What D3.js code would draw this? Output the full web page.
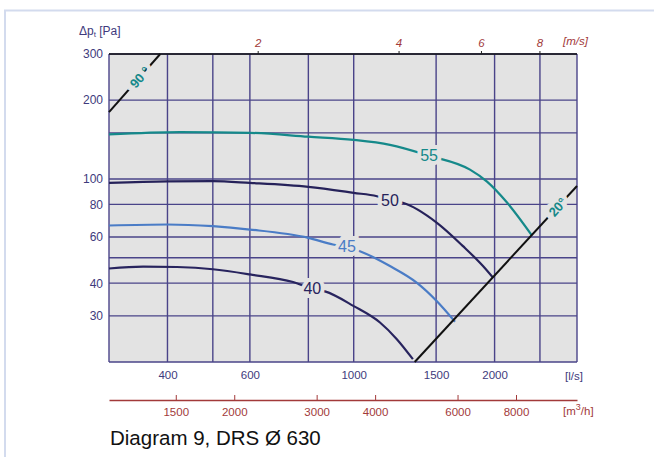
<!DOCTYPE html>
<html>
<head>
<meta charset="utf-8">
<script src="https://cdn.jsdelivr.net/npm/d3@7"></script>
<style>
  body { margin: 0; background: #fff; }
  svg { display: block; font-family: "Liberation Sans", Arial, sans-serif; }
</style>
</head>
<body>
<div id="chart"></div>
<script>
// volume flow grid in l/s, pressure grid in Pa
const flowGrid = [300, 400, 500, 600, 800, 1000, 1500, 2000, 2500, 3000];
const pressGrid = [20, 30, 40, 50, 60, 80, 100, 150, 200, 300];
const flowTicks = [400, 600, 1000, 1500, 2000];
const pressTicks = [30, 40, 60, 80, 100, 200, 300];
const m3hTicks = [1500, 2000, 3000, 4000, 6000, 8000];
const velTicks = [2, 4, 6, 8];

// sound power curves [l/s, Pa]
const curve55 = [[300, 148], [425, 151], [600, 150], [800, 145], [1000, 141], [1195, 135], [1449, 122.7], [1772, 108.5], [1927, 97.7], [2126, 81.3], [2404, 60.8]];
const curve50 = [[300, 96.6], [400, 97.9], [500, 98.1], [600, 96.6], [800, 93.3], [1000, 88.5], [1121, 85.9], [1195, 82.9], [1274, 81.1], [1506, 68], [1712, 55.4], [1889, 46.5], [1984, 42]];
const curve45 = [[300, 66.4], [400, 67], [500, 66], [600, 64.1], [800, 59.6], [903, 56.2], [967, 55.1], [1031, 53], [1195, 46.5], [1363, 40.2], [1504, 34.2], [1646, 28.5]];
const curve40 = [[300, 45.5], [355, 46.3], [419, 46.1], [500, 45.2], [600, 43.2], [742, 40.4], [816, 38.1], [868, 37.2], [1000, 32.7], [1138, 28.3], [1235, 24.5], [1338, 20.5]];
const curveNames = ["55", "50", "45", "40"];
const curveLabelAt = [[1449, 122.7], [1195, 82.9], [967, 55.1], [816, 38.1]];

// damper angle lines
const line90 = [[300, 180], [386, 300]];
const line20 = [[1350, 20], [3000, 94]];
const angleLabels = ["90 °", "20°"];

const W = 654, H = 457;
const svg = d3.select("#chart").append("svg").attr("width", W).attr("height", H);

// outer frame
svg.append("path").attr("d", `M5,${H} V10.5 H${W}`)
  .attr("fill", "none").attr("stroke", "#d3dbee").attr("stroke-width", 2);

const x = d3.scaleLog().domain([300, 3000]).range([109, 577]);
const y = d3.scaleLog().domain([20, 300]).range([362, 54]);
const area = Math.PI * 0.315 * 0.315 * 1000; // l/s per m/s
const xm = d3.scaleLog().domain([300 * 3.6, 3000 * 3.6]).range([109, 577]);

const gridCol = "#4a4489";
const axisCol = "#3e3a7c";
const redCol = "#a23a3a";

svg.append("rect").attr("x", 109).attr("y", 54).attr("width", 468).attr("height", 308).attr("fill", "#e3e3e3");

const grid = svg.append("g").attr("stroke", gridCol).attr("stroke-width", 1.4);
grid.selectAll("line.v").data(flowGrid).join("line")
  .attr("x1", d => x(d)).attr("x2", d => x(d)).attr("y1", 54).attr("y2", 362);
grid.selectAll("line.h").data(pressGrid).join("line")
  .attr("x1", 109).attr("x2", 577).attr("y1", d => y(d)).attr("y2", d => y(d));

// top edge + m/s axis
svg.append("line").attr("x1", 109).attr("x2", 577).attr("y1", 54).attr("y2", 54)
  .attr("stroke", "#111").attr("stroke-width", 1.5);
const topAx = svg.append("g").attr("transform", "translate(0,54)")
  .call(d3.axisTop(d3.scaleLog().domain([300 / area, 3000 / area]).range([109, 577]))
    .tickValues(velTicks).tickFormat(d3.format("d")).tickSize(3).tickPadding(4));
topAx.select(".domain").remove();
topAx.selectAll("line").attr("stroke", "#222");
topAx.selectAll("text").attr("fill", redCol).attr("font-size", 11.5).attr("font-style", "italic")
  .attr("font-family", "Liberation Sans, Arial, sans-serif");
svg.append("text").attr("x", 563).attr("y", 45).attr("fill", redCol).attr("font-size", 11.5)
  .attr("font-style", "italic").text("[m/s]");

// y axis
const yAx = svg.append("g").attr("transform", "translate(109,0)")
  .call(d3.axisLeft(y).tickValues(pressTicks).tickFormat(d3.format("d")).tickSize(0).tickPadding(6));
yAx.select(".domain").remove();
yAx.selectAll("text").attr("fill", axisCol).attr("font-size", 12)
  .attr("font-family", "Liberation Sans, Arial, sans-serif");
const yl = svg.append("text").attr("x", 79).attr("y", 35).attr("fill", axisCol).attr("font-size", 12);
yl.append("tspan").text("Δp");
yl.append("tspan").attr("font-size", 8).attr("dy", 2).text("t");
yl.append("tspan").attr("dy", -2).text(" [Pa]");

// bottom l/s axis
const xAx = svg.append("g").attr("transform", "translate(0,362)")
  .call(d3.axisBottom(x).tickValues(flowTicks).tickFormat(d3.format("d")).tickSize(0).tickPadding(9));
xAx.select(".domain").remove();
xAx.selectAll("text").attr("fill", axisCol).attr("font-size", 11.5)
  .attr("font-family", "Liberation Sans, Arial, sans-serif");
svg.append("text").attr("x", 565).attr("y", 380).attr("fill", axisCol).attr("font-size", 11.5).text("[l/s]");

// m3/h axis
const mAx = svg.append("g").attr("transform", "translate(0,400)")
  .call(d3.axisBottom(xm).tickValues(m3hTicks).tickFormat(d3.format("d")).tickSizeInner(-5).tickSizeOuter(0).tickPadding(8));
mAx.select(".domain").attr("stroke", redCol).attr("stroke-width", 1.3);
mAx.selectAll("line").attr("stroke", redCol);
mAx.selectAll("text").attr("fill", redCol).attr("font-size", 11.5)
  .attr("font-family", "Liberation Sans, Arial, sans-serif");
const ml = svg.append("text").attr("x", 563).attr("y", 415).attr("fill", redCol).attr("font-size", 11.5);
ml.append("tspan").text("[m");
ml.append("tspan").attr("font-size", 9).attr("dy", -5).text("3");
ml.append("tspan").attr("dy", 5).text("/h]");

// curves
const lineGen = d3.line().x(d => x(d[0])).y(d => y(d[1])).curve(d3.curveMonotoneX);
const curves = [curve55, curve50, curve45, curve40];
const colors = ["#15898a", "#26225a", "#4a7cc6", "#28245e"];
svg.append("g").selectAll("path").data(curves).join("path")
  .attr("d", lineGen).attr("fill", "none")
  .attr("stroke", (d, i) => colors[i]).attr("stroke-width", 2.2);

svg.append("g").selectAll("text").data(curveLabelAt).join("text")
  .attr("x", d => x(d[0])).attr("y", d => y(d[1])).attr("dy", "0.36em")
  .attr("text-anchor", "middle").attr("font-size", 16)
  .attr("fill", (d, i) => colors[i]).attr("stroke", "#e3e3e3").attr("stroke-width", 8)
  .attr("paint-order", "stroke").text((d, i) => curveNames[i]);

// damper lines
const straight = d3.line().x(d => x(d[0])).y(d => y(d[1]));
svg.append("g").selectAll("path").data([line90, line20]).join("path")
  .attr("d", straight).attr("fill", "none").attr("stroke", "#111").attr("stroke-width", 2);

const angPos = [[line90, 0.6, -49], [line20, 0.88, -48]];
svg.append("g").selectAll("text").data(angPos).join("text")
  .attr("transform", d => {
    const a = d[0][0], b = d[0][1], t = d[1];
    const px = x(a[0]) + (x(b[0]) - x(a[0])) * t;
    const py = y(a[1]) + (y(b[1]) - y(a[1])) * t;
    return `translate(${px},${py}) rotate(${d[2]})`;
  })
  .attr("dy", "0.36em").attr("text-anchor", "middle")
  .attr("font-size", 13).attr("font-weight", "bold").attr("fill", "#15898a")
  .attr("stroke", "#e3e3e3").attr("stroke-width", 10).attr("paint-order", "stroke")
  .text((d, i) => angleLabels[i]);

svg.append("text").attr("x", 110).attr("y", 445).attr("font-size", 20.5).attr("fill", "#111")
  .text("Diagram 9, DRS Ø 630");
</script>
</body>
</html>
